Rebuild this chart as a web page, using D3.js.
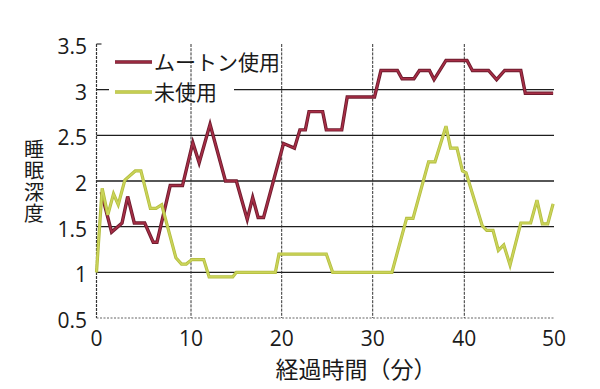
<!DOCTYPE html>
<html><head><meta charset="utf-8">
<script src="https://cdn.jsdelivr.net/npm/d3@7"></script>
<style>
html,body{margin:0;padding:0;background:#fff;}
svg{display:block;}
text{font-family:"Open Sans","Noto Sans CJK JP",sans-serif;fill:#1a1a1a;}
.jp{font-family:"Noto Sans CJK JP",sans-serif;}
</style></head>
<body>
<svg id="chart" width="600" height="389"></svg>
<script>
// ---- data ----
const xTicks = [0, 10, 20, 30, 40, 50];
const yTicks = [0.5, 1, 1.5, 2, 2.5, 3, 3.5];
const seriesNames = ["ムートン使用", "未使用"];
const xTitle = "経過時間（分）";
const yTitle = "睡眠深度";

const moutonTime = [0.5,1.6,2.7,3.3,4.0,5.1,6.0,6.4,7.8,9.1,10.2,10.9,12.1,13.8,15.0,16.2,16.8,17.4,18.0,20.2,21.4,22.0,22.6,23.0,24.5,24.9,26.6,27.2,30.2,30.9,32.7,33.2,34.5,35.1,36.2,36.7,38.0,40.3,40.9,42.7,43.6,44.5,46.3,46.8,49.9];
const moutonDepth = [1.88,1.44,1.54,1.83,1.54,1.54,1.33,1.33,1.95,1.95,2.42,2.2,2.62,2.0,2.0,1.58,1.82,1.6,1.6,2.41,2.36,2.56,2.56,2.76,2.76,2.56,2.56,2.92,2.92,3.21,3.21,3.12,3.12,3.21,3.21,3.11,3.32,3.32,3.21,3.21,3.11,3.21,3.21,2.96,2.96];

const noneTime = [0,0.6,1.2,1.8,2.3,3.0,4.1,4.7,5.7,6.3,6.9,8.4,9.0,9.5,10.1,11.4,12.0,14.6,15.0,19.3,19.7,24.9,25.6,32.1,33.7,34.4,36.1,36.8,38.0,38.5,39.2,39.8,40.2,42.0,42.5,43.2,43.8,44.4,45.1,46.3,47.4,48.1,48.7,49.3,49.9];
const noneDepth = [1.0,1.92,1.63,1.86,1.74,2.01,2.11,2.11,1.70,1.70,1.74,1.16,1.09,1.09,1.14,1.14,0.95,0.95,1.0,1.0,1.2,1.2,1.0,1.0,1.59,1.59,2.21,2.21,2.6,2.36,2.36,2.11,2.09,1.51,1.46,1.46,1.24,1.30,1.08,1.54,1.54,1.79,1.53,1.53,1.75];

// ---- chart ----
const svg = d3.select("#chart");
const x = d3.scaleLinear().domain([0,10,20,30,40,50]).range([96.5,191,281.7,372.7,464.3,554]);
const y = d3.scaleLinear().domain([0.5,3.5]).range([318,44]);
const x0 = x(0), x1 = x(50), yTop = y(3.5), yBot = y(0.5);

// horizontal gridlines
svg.append("g").selectAll("line").data(yTicks.filter(v => v > 0.5 && v < 3.5)).join("line")
  .attr("x1", x0).attr("x2", x1).attr("y1", d => y(d)).attr("y2", d => y(d))
  .attr("stroke", "#1e1e1e").attr("stroke-width", 1.3);

// legend backdrop cutting the 3.0 gridline
svg.append("rect").attr("x", 109).attr("y", 84).attr("width", 125).attr("height", 14).attr("fill", "#fff");

// vertical gridlines
svg.append("g").selectAll("line").data(xTicks.filter(v => v > 0 && v < 50)).join("line")
  .attr("x1", d => x(d)).attr("x2", d => x(d)).attr("y1", yTop).attr("y2", yBot)
  .attr("stroke", "#333").attr("stroke-width", 1).attr("stroke-dasharray", "3,1.2");

// axes lines
svg.append("line").attr("x1", x0).attr("x2", x0).attr("y1", yTop).attr("y2", yBot)
  .attr("stroke", "#333").attr("stroke-width", 1.2).attr("stroke-dasharray", "3,1");
svg.append("line").attr("x1", x0).attr("x2", x1).attr("y1", yBot).attr("y2", yBot)
  .attr("stroke", "#666").attr("stroke-width", 1.2).attr("stroke-dasharray", "2,1.5");
svg.append("line").attr("x1", x0).attr("x2", x0 + 5).attr("y1", yTop).attr("y2", yTop)
  .attr("stroke", "#333").attr("stroke-width", 1.2);

// tick labels
svg.append("g").selectAll("text").data(yTicks).join("text")
  .attr("x", 87).attr("y", d => y(d) + 10).attr("text-anchor", "end")
  .attr("font-size", 21).text(d => d);
svg.append("g").selectAll("text").data(xTicks).join("text")
  .attr("x", d => x(d)).attr("y", 346).attr("text-anchor", "middle")
  .attr("font-size", 21).text(d => d);

// axis titles
svg.append("text").attr("class", "jp").attr("x", 356).attr("y", 378)
  .attr("text-anchor", "middle").attr("font-size", 23).text(xTitle);
svg.append("text").attr("class", "jp")
  .attr("x", 34).attr("y", 139)
  .style("writing-mode", "vertical-rl").style("text-orientation", "upright")
  .attr("font-size", 20).attr("letter-spacing", 1.5).text(yTitle);

// lines
const line = d3.line().x(d => x(d[0])).y(d => y(d[1]));
const moutonData = moutonTime.map((t, i) => [t, moutonDepth[i]]);
const noneData = noneTime.map((t, i) => [t, noneDepth[i]]);

function drawSeries(data, outer, inner, wo, wi) {
  svg.append("path").datum(data).attr("d", line).attr("fill", "none")
    .attr("stroke", outer).attr("stroke-width", wo).attr("stroke-linejoin", "miter");
  svg.append("path").datum(data).attr("d", line).attr("fill", "none")
    .attr("stroke", inner).attr("stroke-width", wi).attr("stroke-linejoin", "miter");
}
drawSeries(moutonData, "#6e1c2e", "#a82e46", 3.4, 1.6);
drawSeries(noneData, "#b3bd3e", "#cbd45a", 3.2, 1.6);

// legend
const legend = [
  {name: seriesNames[0], outer: "#6e1c2e", inner: "#a82e46", y: 62},
  {name: seriesNames[1], outer: "#b3bd3e", inner: "#cbd45a", y: 92}
];
legend.forEach(l => {
  svg.append("line").attr("x1", 115).attr("x2", 152).attr("y1", l.y).attr("y2", l.y)
    .attr("stroke", l.outer).attr("stroke-width", 3.4);
  svg.append("line").attr("x1", 115).attr("x2", 152).attr("y1", l.y).attr("y2", l.y)
    .attr("stroke", l.inner).attr("stroke-width", 1.6);
  svg.append("text").attr("class", "jp").attr("x", 154).attr("y", l.y + 8)
    .attr("font-size", 21).text(l.name);
});
</script>
</body></html>
